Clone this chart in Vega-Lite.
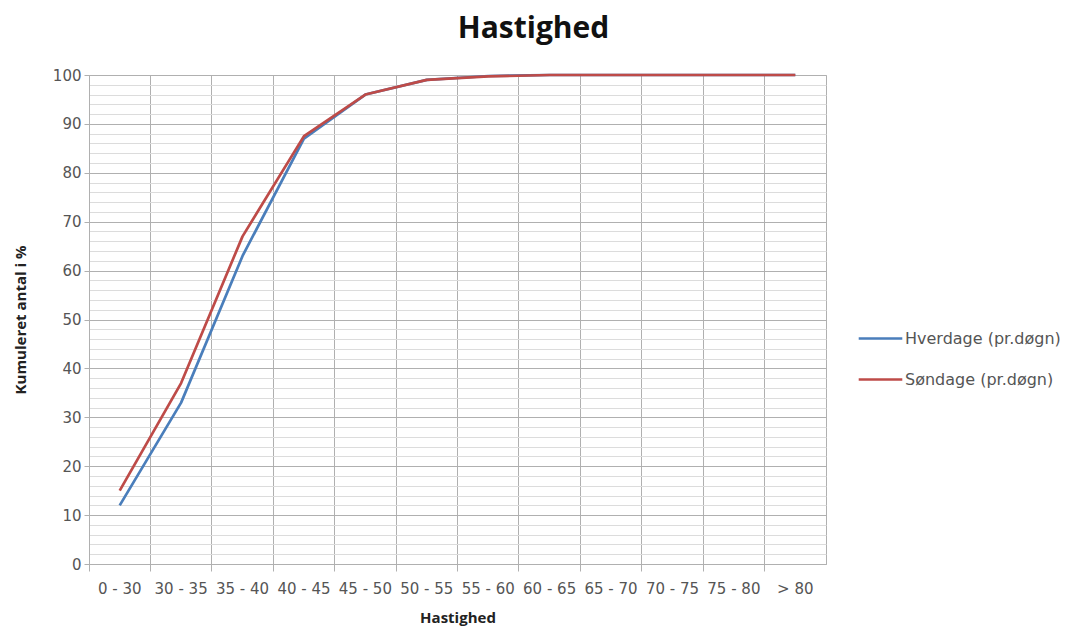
{
  "$schema": "https://vega.github.io/schema/vega-lite/v6.json",
  "autosize": {"type": "none"},
  "width": 737,
  "height": 489,
  "padding": {"left": 89, "top": 75, "right": 240, "bottom": 68},
  "background": "white",
  "config": {
    "view": {"stroke": "#b0b0b0", "strokeWidth": 1},
    "font": "Open Sans"
  },
  "title": {
    "text": "Hastighed",
    "fontSize": 30,
    "fontWeight": "bold",
    "font": "Open Sans",
    "color": "#111111",
    "anchor": "middle",
    "dx": 76,
    "offset": 24
  },
  "data": {
    "values": [
      {"kategori": "0 - 30", "serie": "Hverdage (pr.døgn)", "pct": 12},
      {"kategori": "30 - 35", "serie": "Hverdage (pr.døgn)", "pct": 33},
      {"kategori": "35 - 40", "serie": "Hverdage (pr.døgn)", "pct": 63},
      {"kategori": "40 - 45", "serie": "Hverdage (pr.døgn)", "pct": 87},
      {"kategori": "45 - 50", "serie": "Hverdage (pr.døgn)", "pct": 96},
      {"kategori": "50 - 55", "serie": "Hverdage (pr.døgn)", "pct": 99},
      {"kategori": "55 - 60", "serie": "Hverdage (pr.døgn)", "pct": 99.8},
      {"kategori": "60 - 65", "serie": "Hverdage (pr.døgn)", "pct": 100},
      {"kategori": "65 - 70", "serie": "Hverdage (pr.døgn)", "pct": 100},
      {"kategori": "70 - 75", "serie": "Hverdage (pr.døgn)", "pct": 100},
      {"kategori": "75 - 80", "serie": "Hverdage (pr.døgn)", "pct": 100},
      {"kategori": "> 80", "serie": "Hverdage (pr.døgn)", "pct": 100},
      {"kategori": "0 - 30", "serie": "Søndage (pr.døgn)", "pct": 15},
      {"kategori": "30 - 35", "serie": "Søndage (pr.døgn)", "pct": 37},
      {"kategori": "35 - 40", "serie": "Søndage (pr.døgn)", "pct": 67},
      {"kategori": "40 - 45", "serie": "Søndage (pr.døgn)", "pct": 87.5},
      {"kategori": "45 - 50", "serie": "Søndage (pr.døgn)", "pct": 96},
      {"kategori": "50 - 55", "serie": "Søndage (pr.døgn)", "pct": 99},
      {"kategori": "55 - 60", "serie": "Søndage (pr.døgn)", "pct": 99.7},
      {"kategori": "60 - 65", "serie": "Søndage (pr.døgn)", "pct": 100},
      {"kategori": "65 - 70", "serie": "Søndage (pr.døgn)", "pct": 100},
      {"kategori": "70 - 75", "serie": "Søndage (pr.døgn)", "pct": 100},
      {"kategori": "75 - 80", "serie": "Søndage (pr.døgn)", "pct": 100},
      {"kategori": "> 80", "serie": "Søndage (pr.døgn)", "pct": 100}
    ]
  },
  "mark": {"type": "line", "strokeWidth": 2.7, "strokeJoin": "round"},
  "encoding": {
    "x": {
      "field": "kategori",
      "type": "nominal",
      "sort": null,
      "scale": {"type": "band", "paddingInner": 0, "paddingOuter": 0},
      "axis": {
        "title": "Hastighed",
        "titleFont": "Open Sans",
        "titleFontSize": 15,
        "titleFontWeight": "bold",
        "titleColor": "#222222",
        "titlePadding": 14,
        "labelAngle": 0,
        "labelFont": "DejaVu Sans",
        "labelFontSize": 15,
        "labelColor": "#555555",
        "labelPadding": 10,
        "labelOverlap": false,
        "bandPosition": 0,
        "grid": true,
        "gridColor": "#b0b0b0",
        "tickColor": "#b0b0b0",
        "tickSize": 7,
        "domainColor": "#b0b0b0"
      }
    },
    "y": {
      "field": "pct",
      "type": "quantitative",
      "scale": {"domain": [0, 100], "nice": false},
      "axis": {
        "title": "Kumuleret antal i %",
        "titleFont": "Open Sans",
        "titleFontSize": 15,
        "titleFontWeight": "bold",
        "titleColor": "#222222",
        "titlePadding": 24,
        "values": [0,2,4,6,8,10,12,14,16,18,20,22,24,26,28,30,32,34,36,38,40,42,44,46,48,50,52,54,56,58,60,62,64,66,68,70,72,74,76,78,80,82,84,86,88,90,92,94,96,98,100],
        "labelExpr": "datum.value % 10 === 0 ? datum.label : ''",
        "labelFont": "DejaVu Sans",
        "labelFontSize": 15,
        "labelColor": "#555555",
        "labelPadding": 3,
        "grid": true,
        "gridColor": {"condition": {"test": "datum.value % 10 === 0", "value": "#b0b0b0"}, "value": "#dcdcdc"},
        "tickColor": {"condition": {"test": "datum.value % 10 === 0", "value": "#b0b0b0"}, "value": "transparent"},
        "tickSize": 5,
        "domainColor": "#b0b0b0"
      }
    },
    "color": {
      "field": "serie",
      "type": "nominal",
      "scale": {"domain": ["Hverdage (pr.døgn)", "Søndage (pr.døgn)"], "range": ["#4A7EBB", "#BE4B48"]},
      "legend": {
        "title": null,
        "orient": "none",
        "legendX": 768,
        "legendY": 240,
        "symbolType": "stroke",
        "symbolStrokeWidth": 2.7,
        "symbolSize": 1900,
        "labelFontSize": 16,
        "labelColor": "#555555",
        "labelFont": "DejaVu Sans",
        "labelOffset": 1,
        "rowPadding": 9
      }
    }
  }
}
